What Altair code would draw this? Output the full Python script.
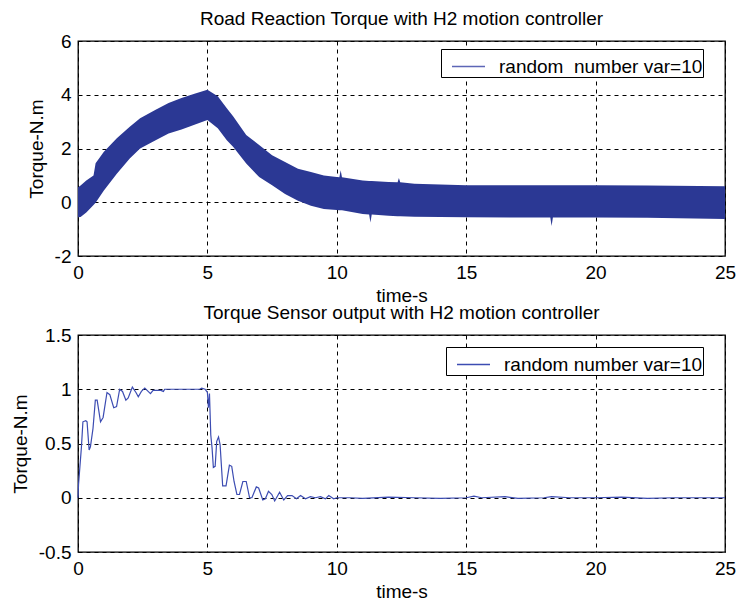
import altair as alt
import pandas as pd

# ---------------- data ----------------
top_title = "Road Reaction Torque with H2 motion controller"
bot_title = "Torque Sensor output with H2 motion controller"
legend_top = "random \u00a0number var=10\u00a0\u00a0\u00a0\u00a0\u00a0"
legend_bot = "random number var=10\u00a0\u00a0\u00a0\u00a0"

x_ticks = [0, 5, 10, 15, 20, 25]
y_ticks_top = [-2, 0, 2, 4, 6]
y_ticks_bot = [-0.5, 0, 0.5, 1, 1.5]

# envelope (upper / lower edge) of the noisy road reaction torque band
t_top = [0, 0.1, 0.32, 0.6, 0.68, 1.0, 1.5, 2.0, 2.4, 3.0, 3.5, 4.0, 4.5, 5.0,
         5.4, 5.75, 6.0, 6.5, 7.0, 7.5, 8.0, 8.5, 9.0, 9.5, 10.0, 10.1, 10.15,
         10.2, 11.0, 11.25, 11.3, 11.35, 12.0, 12.35, 12.4, 12.45, 13.0, 15.0,
         18.25, 18.3, 18.35, 20.0, 22.0, 25.0]
upper_top = [0.56, 0.62, 0.81, 1.0, 1.45, 1.88, 2.38, 2.81, 3.13, 3.44, 3.69, 3.88,
             4.04, 4.19, 3.94, 3.5, 3.19, 2.5, 2.13, 1.75, 1.5, 1.25, 1.13, 1.0,
             0.94, 0.93, 1.19, 0.93, 0.81, 0.79, 0.79, 0.79, 0.75, 0.74, 0.9, 0.74,
             0.69, 0.63, 0.63, 0.63, 0.63, 0.63, 0.62, 0.6]
lower_top = [-0.56, -0.55, -0.38, -0.1, -0.02, 0.44, 1.06, 1.63, 2.0, 2.31, 2.56,
             2.71, 2.88, 3.06, 2.75, 2.31, 2.06, 1.44, 0.94, 0.63, 0.31, 0.06,
             -0.13, -0.25, -0.29, -0.3, -0.3, -0.3, -0.44, -0.46, -0.75, -0.46,
             -0.5, -0.52, -0.52, -0.52, -0.54, -0.56, -0.57, -0.88, -0.57, -0.57,
             -0.58, -0.62]

# torque sensor output
t_bot = [0, 0.02, 0.13, 0.19, 0.3, 0.35, 0.43, 0.48, 0.58, 0.67, 0.74, 0.87,
         0.97, 1.12, 1.23, 1.38, 1.49, 1.61, 1.72, 1.85, 1.94, 2.1, 2.24, 2.33,
         2.45, 2.58, 2.71, 2.8, 2.9, 3.0, 3.2, 3.3, 3.35, 4.7, 4.78, 4.91, 5.0,
         5.04, 5.08, 5.13, 5.18, 5.23, 5.3, 5.36, 5.43, 5.49, 5.59, 5.72, 5.85,
         5.94, 6.03, 6.14, 6.24, 6.37, 6.5, 6.63, 6.72, 6.89, 6.98, 7.14, 7.24,
         7.36, 7.49, 7.6, 7.79, 7.95, 8.1, 8.27, 8.44, 8.6, 8.79, 8.98, 9.17,
         9.37, 9.56, 9.69, 9.88, 10.0, 10.5, 11.0, 12.0, 13.0, 14.0, 15.0, 15.3,
         15.6, 16.5, 17.0, 18.0, 18.3, 19.0, 20.0, 21.0, 22.0, 23.0, 24.0, 25.0]
v_bot = [0, 0.12, 0.46, 0.7, 0.71, 0.7, 0.44, 0.47, 0.64, 0.9, 0.9, 0.7, 0.74,
         0.97, 0.95, 0.83, 0.84, 1.0, 0.98, 0.9, 0.92, 1.02, 0.97, 0.93, 0.98,
         1.01, 0.98, 0.96, 0.99, 0.99, 0.99, 0.98, 1.0, 1.0, 1.01, 1.0, 0.97,
         0.83, 0.96, 0.58, 0.46, 0.28, 0.29, 0.52, 0.56, 0.49, 0.11, 0.11, 0.3,
         0.29, 0.15, 0.03, 0.03, 0.15, 0.15, 0.0, 0.0, 0.1, 0.09, -0.02, -0.01,
         0.06, 0.03, -0.03, 0.05, -0.02, 0.02, 0.02, -0.01, 0.02, -0.01, 0.01,
         0.0, 0.01, -0.01, 0.02, -0.01, 0.0, 0.0, -0.005, 0.005, 0.0, -0.005,
         0.0, 0.015, 0.0, 0.01, -0.005, 0.0, 0.01, 0.0, 0.0, 0.005, -0.005, 0.0,
         0.0, 0.0]

# ---------------- styling ----------------
FONT = "Liberation Sans"
FS = 19
BAND = "#2B3894"
LINE = "#3C4CB2"
LEG_LINE = "#5D66B6"

top_df = pd.DataFrame({"t": t_top, "upper": upper_top, "lower": lower_top})
top_df["series"] = legend_top
bot_df = pd.DataFrame({"t": t_bot, "v": v_bot})
bot_df["series"] = legend_bot

W, H_TOP, H_BOT = 647, 215, 217


def axis(values, title, is_y=False):
    kw = dict(
        values=values, title=title, grid=True, gridColor="black",
        gridDash=[4, 4], gridWidth=1, gridOpacity=1, domain=False, ticks=False,
        labelFont=FONT, labelFontSize=FS, labelColor="black",
        titleFont=FONT, titleFontSize=FS, titleFontWeight="normal",
        titleColor="black", labelPadding=7,
        labelExpr="toString(datum.value)",
    )
    if is_y:
        kw["titlePadding"] = 8
    else:
        kw["titlePadding"] = 4
        kw["labelFlush"] = False
    return alt.Axis(**kw)


def legend(lx, ly):
    return alt.Legend(
        title=None, orient="none", legendX=lx, legendY=ly,
        fillColor="white", strokeColor="black", padding=0,
        labelFont=FONT, labelFontSize=FS, labelColor="black", labelLimit=400,
        symbolType="stroke", symbolSize=1089, symbolStrokeColor=LEG_LINE,
        symbolStrokeWidth=1.5, symbolOffset=10, labelOffset=13,
    )


def title(text):
    return alt.TitleParams(text, font=FONT, fontSize=FS, fontWeight="normal",
                           color="black", offset=3, anchor="middle")


top = alt.Chart(top_df, title=title(top_title)).mark_area(
    opacity=1, interpolate="linear").encode(
    x=alt.X("t:Q", scale=alt.Scale(domain=[0, 25], nice=False),
            axis=axis(x_ticks, "time-s")),
    y=alt.Y("upper:Q", scale=alt.Scale(domain=[-2, 6], nice=False),
            axis=axis(y_ticks_top, "Torque-N.m", True)),
    y2="lower:Q",
    color=alt.Color("series:N", scale=alt.Scale(range=[BAND]),
                    legend=legend(363, 8)),
).properties(width=W, height=H_TOP)

bot = alt.Chart(bot_df, title=title(bot_title)).mark_line(strokeWidth=1.2).encode(
    x=alt.X("t:Q", scale=alt.Scale(domain=[0, 25], nice=False),
            axis=axis(x_ticks, "time-s")),
    y=alt.Y("v:Q", scale=alt.Scale(domain=[-0.5, 1.5], nice=False),
            axis=axis(y_ticks_bot, "Torque-N.m", True)),
    color=alt.Color("series:N", scale=alt.Scale(range=[LINE]),
                    legend=legend(368, 12)),
).properties(width=W, height=H_BOT)

chart = alt.VConcatChart(vconcat=[top, bot], spacing=79, bounds="flush").resolve_scale(
    color="independent").resolve_legend(color="independent").properties(
    padding={"left": 10, "top": 9, "right": 0, "bottom": 0},
    background="white",
).configure_view(stroke="black", strokeWidth=1.3)

chart.save("out.html", embed_options={"renderer": "svg", "actions": False})
